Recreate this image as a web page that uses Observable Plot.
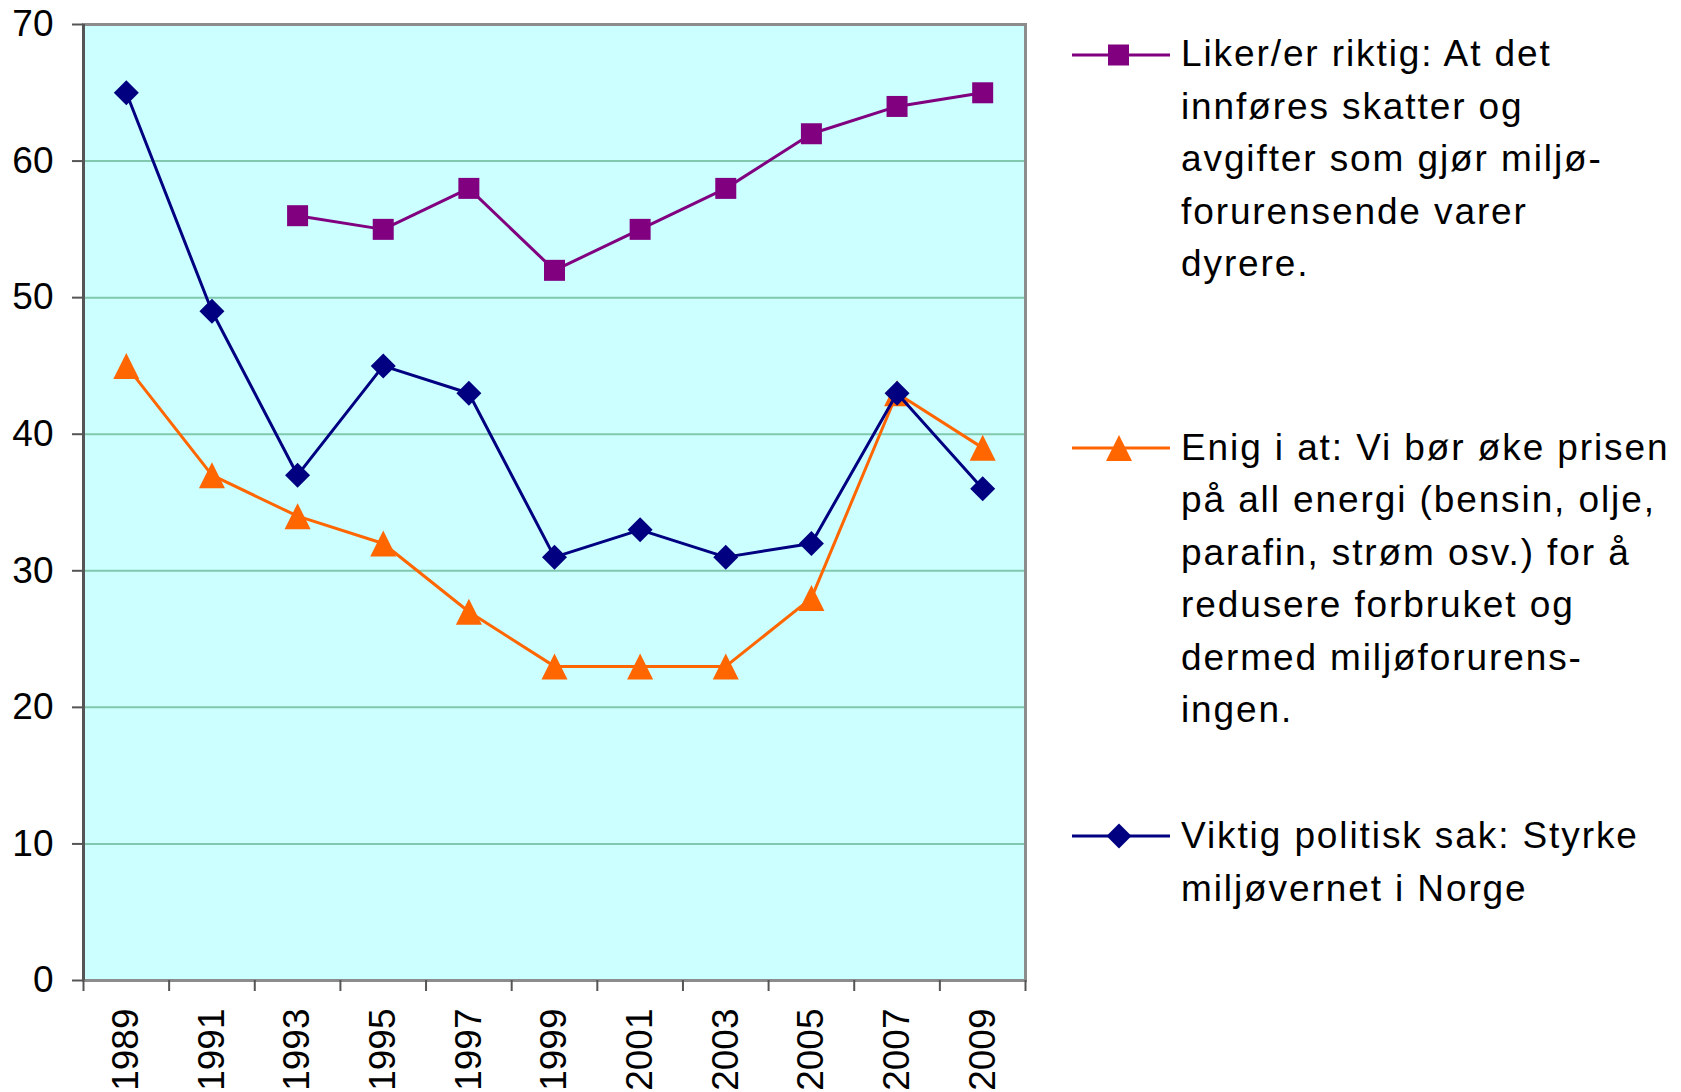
<!DOCTYPE html>
<html>
<head>
<meta charset="utf-8">
<script src="https://cdn.jsdelivr.net/npm/d3@7"></script>
<script src="https://cdn.jsdelivr.net/npm/@observablehq/plot@0.6"></script>
<style>
  html, body { margin: 0; padding: 0; background: #fff; }
  #wrap { position: relative; width: 1681px; height: 1092px; font-family: "Liberation Sans", Arial, sans-serif; }
  #legend { position: absolute; left: 0; top: 0; }
  .item { position: absolute; left: 1181px; font-size: 37px; line-height: 52.6px; letter-spacing: 1.9px; color: #000; white-space: nowrap; }
  .sw { position: absolute; left: 1070px; }
</style>
</head>
<body>
<div id="wrap"><div id="chart"></div><div id="legend"></div></div>
<script>
// ---- data ----
const years = [1989, 1991, 1993, 1995, 1997, 1999, 2001, 2003, 2005, 2007, 2009];
const liker = [null, null, 56, 55, 58, 52, 55, 58, 62, 64, 65];
const enig = [45, 37, 34, 32, 27, 23, 23, 23, 28, 43, 39];
const viktig = [65, 49, 37, 45, 43, 31, 33, 31, 32, 43, 36];
const seriesNames = [
  "Liker/er riktig: At det innføres skatter og avgifter som gjør miljøforurensende varer dyrere.",
  "Enig i at: Vi bør øke prisen på all energi (bensin, olje, parafin, strøm osv.) for å redusere forbruket og dermed miljøforurensingen.",
  "Viktig politisk sak: Styrke miljøvernet i Norge"
];
const legendLines = [
  ["Liker/er riktig: At det", "innføres skatter og", "avgifter som gjør miljø-", "forurensende varer", "dyrere."],
  ["Enig i at: Vi bør øke prisen", "på all energi (bensin, olje,", "parafin, strøm osv.) for å", "redusere forbruket og", "dermed miljøforurens-", "ingen."],
  ["Viktig politisk sak: Styrke", "miljøvernet i Norge"]
];
const colors = ["#800080", "#FF6600", "#000080"];
const yTicks = [0, 10, 20, 30, 40, 50, 60, 70];
const gridTicks = [10, 20, 30, 40, 50, 60];
const xBounds = [1988, 1990, 1992, 1994, 1996, 1998, 2000, 2002, 2004, 2006, 2008, 2010];

// ---- custom symbols (r = half size) ----
const sq = {draw(ctx, size) { const r = Math.sqrt(size / Math.PI); ctx.rect(-r, -r, 2 * r, 2 * r); }};
const dia = {draw(ctx, size) { const r = Math.sqrt(size / Math.PI); ctx.moveTo(0, -r); ctx.lineTo(r, 0); ctx.lineTo(0, r); ctx.lineTo(-r, 0); ctx.closePath(); }};
const tri = {draw(ctx, size) { const r = Math.sqrt(size / Math.PI); ctx.moveTo(0, -r); ctx.lineTo(r, r); ctx.lineTo(-r, r); ctx.closePath(); }};

const mk = (vals) => years.map((y, i) => ({year: y, value: vals[i]})).filter(d => d.value != null);
const dL = mk(liker), dE = mk(enig), dV = mk(viktig);

const chart = Plot.plot({
  width: 1681,
  height: 1092,
  marginLeft: 83,
  marginRight: 656,
  marginTop: 24,
  marginBottom: 112,
  style: {fontFamily: '"Liberation Sans", Arial, sans-serif', background: "transparent", color: "#000", overflow: "visible"},
  x: {type: "linear", domain: [1988, 2010]},
  y: {domain: [0, 70]},
  marks: [
    Plot.frame({fill: "#CCFFFF", stroke: "none"}),
    Plot.ruleY(gridTicks, {stroke: "#80C8AE", strokeWidth: 2}),
    Plot.frame({stroke: "#8C8C8C", strokeWidth: 3}),
    Plot.ruleX([1988], {stroke: "#555555", strokeWidth: 3}),
    Plot.axisY({ticks: yTicks, tickSize: 11, tickPadding: 19, fontSize: 37, stroke: "#555", strokeWidth: 2, label: null}),
    Plot.axisX({ticks: xBounds, tickSize: 11, tickFormat: () => "", stroke: "#555", strokeWidth: 2, label: null}),
    Plot.axisX({ticks: years, tickSize: 0, tickPadding: 28, tickRotate: -90, fontSize: 37, tickFormat: d => String(d), label: null}),
    Plot.lineY(dL, {x: "year", y: "value", stroke: colors[0], strokeWidth: 3}),
    Plot.dot(dL, {x: "year", y: "value", symbol: sq, r: 10.5, fill: colors[0], stroke: "none"}),
    Plot.lineY(dE, {x: "year", y: "value", stroke: colors[1], strokeWidth: 3}),
    Plot.dot(dE, {x: "year", y: "value", symbol: tri, r: 13, fill: colors[1], stroke: "none"}),
    Plot.lineY(dV, {x: "year", y: "value", stroke: colors[2], strokeWidth: 3}),
    Plot.dot(dV, {x: "year", y: "value", symbol: dia, r: 12.5, fill: colors[2], stroke: "none"})
  ]
});
document.getElementById("chart").appendChild(chart);

// ---- legend ----
const legend = document.getElementById("legend");
const tops = [28, 421.5, 810];
const centers = [55, 448, 836];
const shapes = [
  '<rect x="38" y="10.5" width="21" height="21"/>',
  '<path d="M49,8 L62,34 L36,34 Z"/>',
  '<path d="M49,8.5 L61.5,21 L49,33.5 L36.5,21 Z"/>'
];
legendLines.forEach((lines, i) => {
  const sw = document.createElement("div");
  sw.className = "sw";
  sw.style.top = (centers[i] - 21) + "px";
  sw.innerHTML = `<svg width="102" height="42"><line x1="2" x2="100" y1="21" y2="21" stroke="${colors[i]}" stroke-width="3"/><g fill="${colors[i]}">${shapes[i]}</g></svg>`;
  legend.appendChild(sw);
  const it = document.createElement("div");
  it.className = "item";
  it.style.top = tops[i] + "px";
  it.title = seriesNames[i];
  it.innerHTML = lines.map(l => `<div>${l}</div>`).join("");
  legend.appendChild(it);
});
</script>
</body>
</html>
